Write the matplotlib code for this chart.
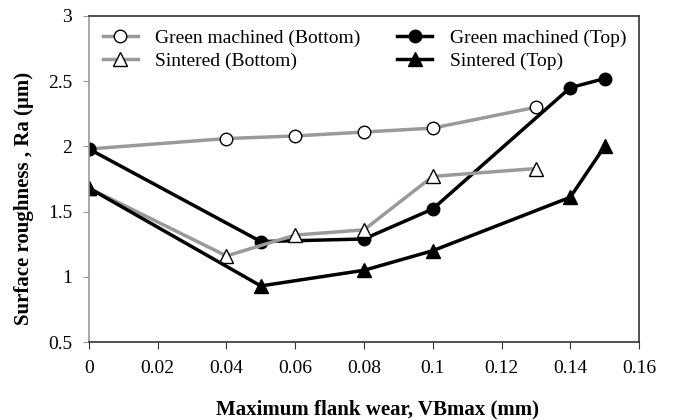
import matplotlib
matplotlib.use("Agg")
import matplotlib.pyplot as plt

# flank wear (mm) and surface roughness Ra (um)
wear_bottom = [0, 0.04, 0.06, 0.08, 0.10, 0.13]
wear_top = [0, 0.05, 0.08, 0.10, 0.14, 0.15]
green_bottom = [1.98, 2.06, 2.08, 2.11, 2.14, 2.30]
green_top = [1.98, 1.27, 1.29, 1.52, 2.45, 2.52]
sint_bottom = [1.68, 1.16, 1.32, 1.36, 1.77, 1.83]
sint_top = [1.68, 0.93, 1.05, 1.20, 1.61, 2.00]

xticks = [0, 0.02, 0.04, 0.06, 0.08, 0.1, 0.12, 0.14, 0.16]
xtick_labels = ["0", "0.02", "0.04", "0.06", "0.08", "0.1", "0.12", "0.14", "0.16"]
yticks = [0.5, 1, 1.5, 2, 2.5, 3]
ytick_labels = ["0.5", "1", "1.5", "2", "2.5", "3"]

plt.rcParams["font.family"] = ["Liberation Serif", "DejaVu Serif"]

gray = "#9a9a9a"
fig = plt.figure(figsize=(6.73, 4.2), dpi=100)
ax = fig.add_axes([0.1322, 0.1857, 0.8173, 0.7763])

ax.plot(wear_bottom, green_bottom, color=gray, lw=2.5, marker="o", ms=9,
        mfc="white", mec="black", mew=1, label="Green machined (Bottom)")
ax.plot(wear_top, green_top, color="black", lw=2.5, marker="o", ms=9,
        mfc="black", mec="black", label="Green machined (Top)")
ax.plot(wear_bottom, sint_bottom, color=gray, lw=2.5, marker="^", ms=10,
        mfc="white", mec="black", mew=1, label="Sintered (Bottom)")
ax.plot(wear_top, sint_top, color="black", lw=2.5, marker="^", ms=10,
        mfc="black", mec="black", label="Sintered (Top)")

ax.set_xlim(0, 0.16)
ax.set_ylim(0.5, 3)
ax.set_xticks(xticks)
ax.set_xticklabels(xtick_labels)
ax.set_yticks(yticks)
ax.set_yticklabels(ytick_labels)
ax.tick_params(axis="x", direction="out", length=5, labelsize=14, pad=8, color="#333333")
ax.tick_params(axis="y", direction="out", length=4, labelsize=14, pad=8, color="#999999")
for s in ax.spines.values():
    s.set_color("#333333")
    s.set_linewidth(1.2)
ax.spines["left"].set_color("#999999")

ax.set_xlabel("Maximum flank wear, VBmax (mm)", fontsize=15, fontweight="bold")
ax.set_ylabel("Surface roughness , Ra (\u00b5m)", fontsize=15, fontweight="bold")
ax.xaxis.set_label_coords(0.525, -0.175)
ax.yaxis.set_label_coords(-0.10, 0.44)

handles, labels = ax.get_legend_handles_labels()
order = [0, 2, 1, 3]
ax.legend([handles[i] for i in order], [labels[i] for i in order], ncol=2,
          loc="upper left", bbox_to_anchor=(0.0, 1.0), frameon=False,
          fontsize=14, handlelength=1.8, handletextpad=0.9, columnspacing=1.9,
          labelspacing=0.25, borderaxespad=0.3)

fig.savefig("out.png", dpi=100)
